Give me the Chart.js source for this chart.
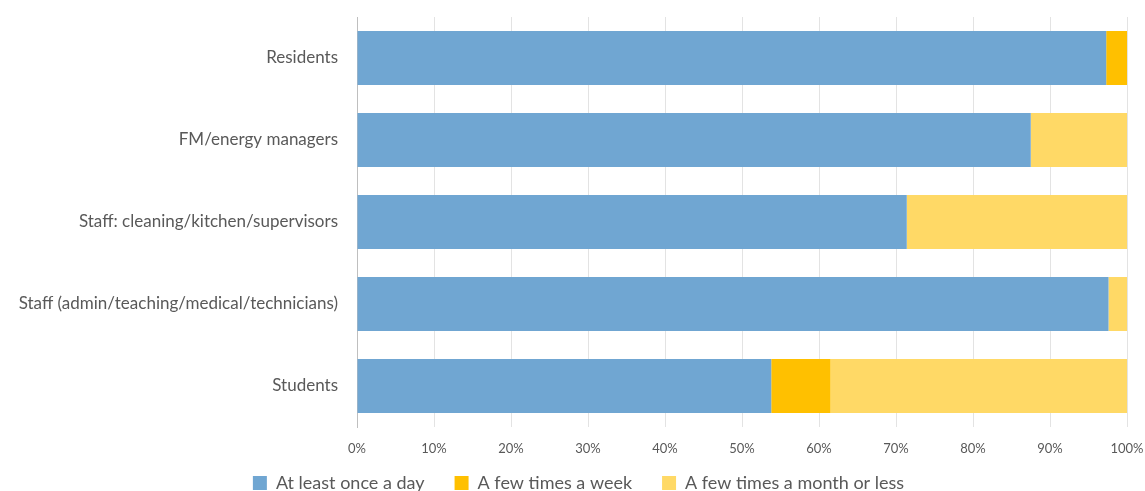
<!DOCTYPE html>
<html>
<head>
<meta charset="utf-8">
<script src="https://cdn.jsdelivr.net/npm/chart.js@4"></script>
<style>
  html, body { margin: 0; padding: 0; background: #fff; }
  #wrap { width: 1145px; height: 491px; }
</style>
</head>
<body>
<div id="wrap"><canvas id="c" width="1145" height="491"></canvas></div>
<script>
const categories = ['Residents', 'FM/energy managers', 'Staff: cleaning/kitchen/supervisors', 'Staff (admin/teaching/medical/technicians)', 'Students'];
const seriesNames = ['At least once a day', 'A few times a week', 'A few times a month or less'];
const atLeastDaily = [97.3, 87.5, 71.4, 97.6, 53.8];
const fewTimesWeek = [2.7, 0, 0, 0, 7.7];
const fewTimesMonth = [0, 12.5, 28.6, 2.4, 38.5];
const xTickStep = 10;
const colors = ['#70A6D2', '#FFC000', '#FFD966'];

const legendPlace = {
  id: 'legendPlace',
  afterLayout(chart) {
    const lg = chart.legend;
    if (lg) {
      const h = lg.bottom - lg.top;
      lg.top = 444; lg.bottom = lg.top + h;
      lg.left += 15; lg.right += 15;
    }
  }
};

new Chart(document.getElementById('c'), {
  type: 'bar',
  data: {
    labels: categories,
    datasets: [atLeastDaily, fewTimesWeek, fewTimesMonth].map((d, i) => ({
      label: seriesNames[i],
      data: d,
      backgroundColor: colors[i],
      borderWidth: 0,
      categoryPercentage: 1,
      barPercentage: 0.66
    }))
  },
  options: {
    indexAxis: 'y',
    responsive: false,
    animation: false,
    layout: { padding: { top: 17, right: 18, bottom: -24, left: 0 } },
    plugins: {
      tooltip: { enabled: false },
      legend: {
        position: 'bottom',
        labels: {
          boxWidth: 14, boxHeight: 14, padding: 30,
          color: '#595959',
          font: { family: 'Lato', size: 18 }
        }
      }
    },
    scales: {
      x: {
        stacked: true, min: 0, max: 100,
        afterFit(s) { s.height = 30; s.paddingLeft = 0; s.paddingRight = 0; },
        grid: { color: '#E3E3E3', drawTicks: false },
        border: { display: false },
        ticks: { stepSize: xTickStep, autoSkip: false, maxRotation: 0, padding: 14, color: '#595959', font: { family: 'Lato', size: 13 }, callback: v => v + '%' }
      },
      y: {
        stacked: true,
        afterFit(s) { s.width = 357; s.paddingTop = 0; s.paddingBottom = 0; },
        grid: { display: false, drawTicks: false },
        border: { display: true, color: '#BFBFBF', width: 1 },
        ticks: { padding: 19, color: '#595959', font: { family: 'Lato', size: 17 } }
      }
    }
  },
  plugins: [legendPlace]
});
</script>
</body>
</html>
